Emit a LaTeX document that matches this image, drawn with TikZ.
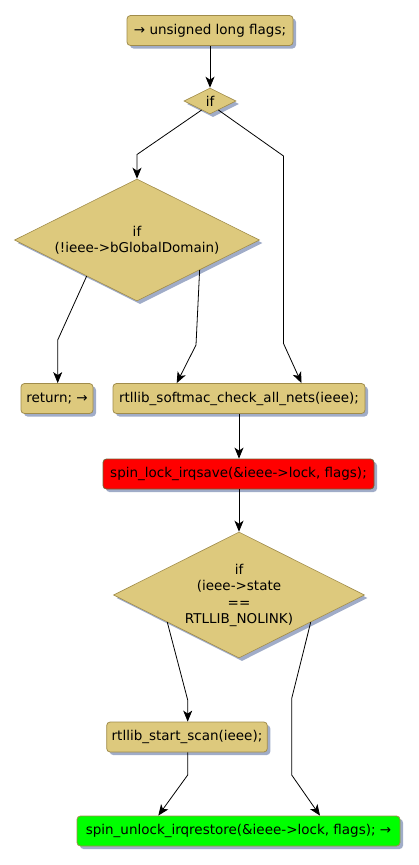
\documentclass[tikz,border=0pt]{standalone}
\usepackage{fontspec}
\setmainfont{DejaVu Sans}
\usetikzlibrary{shapes.geometric,shadows,arrows.meta,calc}
\definecolor{tan}{RGB}{221,201,125}
\definecolor{tanborder}{RGB}{160,140,75}
\definecolor{shadowcol}{RGB}{160,172,200}
\definecolor{redfill}{RGB}{255,0,0}
\definecolor{greenfill}{RGB}{0,255,0}
\tikzset{
  box/.style={draw=tanborder, fill=tan, rounded corners=3.5pt, line width=0.8pt,
    minimum height=30pt, inner xsep=5pt, inner ysep=0pt,
    drop shadow={shadow xshift=3pt, shadow yshift=-3pt, fill=shadowcol, opacity=1}},
  dia/.style={draw=tanborder, fill=tan, shape=diamond, inner sep=0pt, line width=0.6pt,
    drop shadow={shadow xshift=3pt, shadow yshift=-3pt, fill=shadowcol, opacity=1}},
  lbl/.style={align=center, inner sep=0pt},
  conn/.style={draw=black, line width=0.8pt, -{Stealth[length=11pt,width=9pt,inset=3pt]}},
}
\begin{document}
\begin{tikzpicture}[x=1pt,y=-1pt,font=\fontsize{13.5}{16.2}\selectfont]
\useasboundingbox (0,0) rectangle (419,865);
\node[box, minimum width=166pt] (n1) at (210,30.5) {→ unsigned long flags;};
\node[dia, minimum width=52pt, minimum height=26pt] (d1) at (210,101) {};
\node[lbl] (d1t) at (210,101.5) {if};
\node[dia, minimum width=245pt, minimum height=122pt] (d2) at (137,240) {};
\node[lbl] (d2t) at (137,240.5) {if\\(!ieee->bGlobalDomain)};
\node[box, minimum width=72pt] (ret) at (57,398.5) {return; →};
\node[box, minimum width=252pt] (chk) at (239,398.5) {rtllib\_softmac\_check\_all\_nets(ieee);};
\node[box, minimum width=271pt, fill=redfill, draw=tanborder!70!black] (lock) at (238.5,474) {spin\_lock\_irqsave(\&ieee->lock, flags);};
\node[dia, minimum width=251pt, minimum height=126pt] (d3) at (239,595) {};
\node[lbl] (d3t) at (239,595.5) {if\\(ieee->state\\==\\RTLLIB\_NOLINK)};
\node[box, minimum width=160pt] (scan) at (187,737) {rtllib\_start\_scan(ieee);};
\node[box, minimum width=323pt, fill=greenfill] (unl) at (238.5,831) {spin\_unlock\_irqrestore(\&ieee->lock, flags); →};

\draw[conn] (n1) -- (d1);
\draw[conn] ($(d1.south)!0.32!(d1.west)$) -- (137,154.5) -- (d2.north);
\draw[conn] ($(d1.south)!0.32!(d1.east)$) -- (283.5,156) -- (283.5,343.5) -- ([xshift=62.5pt]chk.north);
\draw[conn] ($(d2.south)!0.41!(d2.west)$) -- (57.7,340) -- ([xshift=0.7pt]ret.north);
\draw[conn] ($(d2.south)!0.51!(d2.east)$) -- (196,345) -- ([xshift=-62.3pt]chk.north);
\draw[conn] (chk.south) -- (chk.south |- lock.north);
\draw[conn] (lock.south -| d3.north) -- (d3);
\draw[conn] ($(d3.south)!0.57!(d3.west)$) -- (187.7,700) -- ([xshift=0.7pt]scan.north);
\draw[conn] ($(d3.south)!0.57!(d3.east)$) -- (291.7,698.5) -- (291.7,775) -- ([xshift=81.5pt]unl.north);
\draw[conn] ([xshift=0.7pt]scan.south) -- (187.7,775) -- ([xshift=-80.2pt]unl.north);
\end{tikzpicture}
\end{document}
